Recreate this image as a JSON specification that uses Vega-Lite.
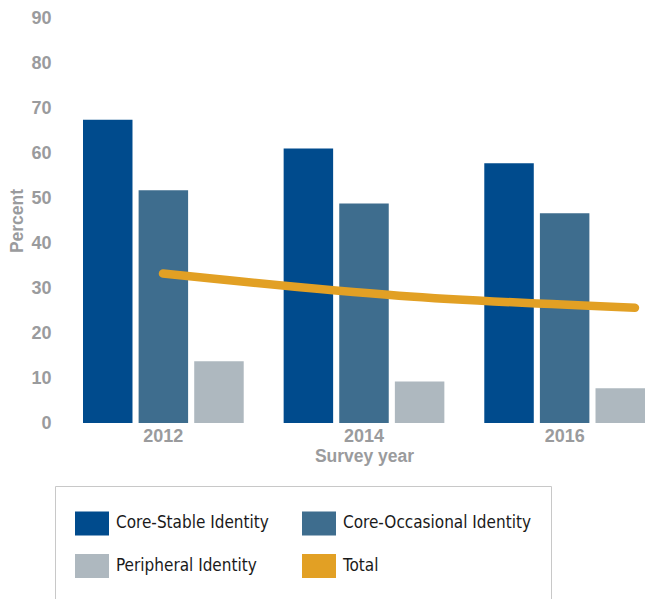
{
  "$schema": "https://vega.github.io/schema/vega-lite/v6.json",
  "autosize": "none",
  "padding": {"left": 83, "top": 18, "right": 0, "bottom": 176},
  "width": 562,
  "height": 405,
  "background": "white",
  "config": {
    "view": {"stroke": null},
    "axis": {
      "labelFont": "Liberation Sans",
      "labelFontWeight": "bold",
      "labelColor": "#9a9b9d",
      "titleFont": "Liberation Sans",
      "titleFontWeight": "bold",
      "titleColor": "#9a9b9d",
      "domain": false,
      "ticks": false,
      "grid": false
    }
  },
  "datasets": {
    "bars": [
      {"year": "2012", "identity": "Core-Stable Identity", "percent": 67.4},
      {"year": "2012", "identity": "Core-Occasional Identity", "percent": 51.7},
      {"year": "2012", "identity": "Peripheral Identity", "percent": 13.7},
      {"year": "2014", "identity": "Core-Stable Identity", "percent": 61.0},
      {"year": "2014", "identity": "Core-Occasional Identity", "percent": 48.8},
      {"year": "2014", "identity": "Peripheral Identity", "percent": 9.2},
      {"year": "2016", "identity": "Core-Stable Identity", "percent": 57.7},
      {"year": "2016", "identity": "Core-Occasional Identity", "percent": 46.6},
      {"year": "2016", "identity": "Peripheral Identity", "percent": 7.7}
    ],
    "total": [
      {"year": 2012, "identity": "Total", "percent": 33.2},
      {"year": 2014, "identity": "Total", "percent": 28.3},
      {"year": 2016, "identity": "Total", "percent": 25.6}
    ]
  },
  "layer": [
    {
      "data": {"name": "bars"},
      "mark": {"type": "bar"},
      "encoding": {
        "x": {
          "field": "year",
          "type": "nominal",
          "scale": {"paddingInner": 0.199, "paddingOuter": 0},
          "axis": {
            "title": "Survey year",
            "labelAngle": 0,
            "labelFontSize": 18,
            "labelPadding": 4,
            "titleFontSize": 17.5,
            "titlePadding": 2
          }
        },
        "xOffset": {
          "field": "identity",
          "type": "nominal",
          "sort": ["Core-Stable Identity", "Core-Occasional Identity", "Peripheral Identity"],
          "scale": {"paddingInner": 0.11, "paddingOuter": 0}
        },
        "y": {
          "field": "percent",
          "type": "quantitative",
          "scale": {"domain": [0, 90], "nice": false},
          "axis": {
            "title": "Percent",
            "values": [0, 10, 20, 30, 40, 50, 60, 70, 80, 90],
            "labelFontSize": 18,
            "labelPadding": 32,
            "titleFontSize": 17.5,
            "titlePadding": 4
          }
        },
        "color": {
          "field": "identity",
          "type": "nominal",
          "scale": {
            "domain": ["Core-Stable Identity", "Core-Occasional Identity", "Peripheral Identity", "Total"],
            "range": ["#004b8d", "#3e6d8e", "#aeb8bf", "#e2a024"]
          },
          "legend": {
            "title": null,
            "orient": "none",
            "legendX": -28,
            "legendY": 468,
            "direction": "horizontal",
            "columns": 2,
            "columnPadding": 33,
            "rowPadding": 13,
            "padding": 20,
            "strokeColor": "#c8c8c8",
            "symbolType": "M-1,-0.706H1V0.706H-1Z",
            "symbolSize": 1156,
            "symbolStrokeWidth": 0,
            "labelFont": "DejaVu Sans Condensed",
            "labelFontSize": 17,
            "labelColor": "#1a1a1a",
            "labelOffset": 7,
            "labelLimit": 400,
            "encode": {
              "symbols": {
                "update": {
                  "fill": {"scale": "color", "field": "value"},
                  "stroke": {"value": "transparent"},
                  "opacity": {"value": 1}
                }
              }
            }
          }
        }
      }
    },
    {
      "data": {"name": "total"},
      "mark": {"type": "line", "strokeWidth": 8.5, "strokeCap": "round", "interpolate": "monotone"},
      "encoding": {
        "x": {
          "field": "year",
          "type": "quantitative",
          "scale": {"domain": [2011.322, 2016.085], "nice": false, "zero": false},
          "axis": null
        },
        "y": {"field": "percent", "type": "quantitative"},
        "color": {"field": "identity", "type": "nominal"}
      }
    }
  ],
  "resolve": {"scale": {"x": "independent"}}
}
